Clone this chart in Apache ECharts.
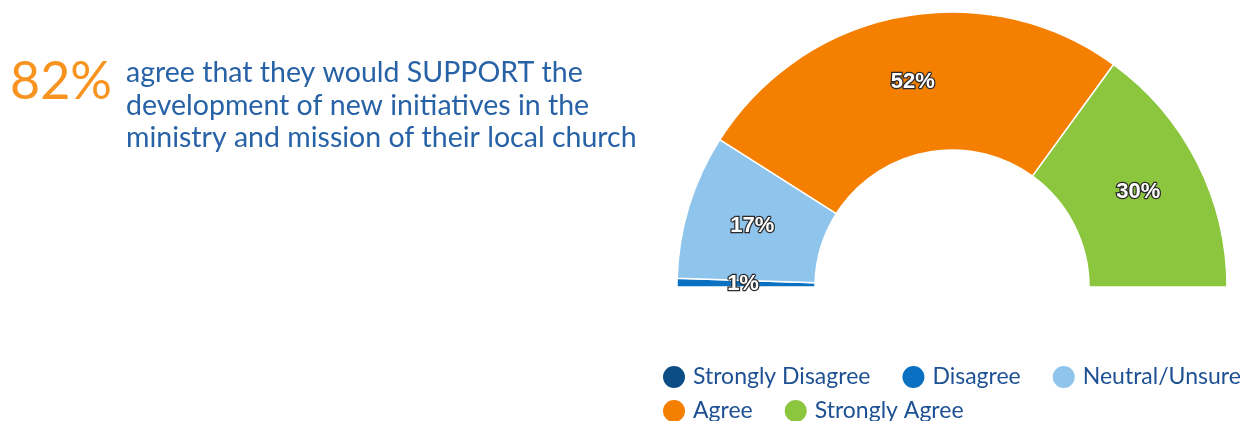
<!DOCTYPE html>
<html>
<head>
<meta charset="utf-8">
<script src="https://cdn.jsdelivr.net/npm/echarts@6/dist/echarts.min.js"></script>
<style>
    html, body { margin: 0; padding: 0; background: #fff; }
    #chart { width: 1246px; height: 421px; }
</style>
</head>
<body>
<div id="chart"></div>
<script>
    // 数据
    var categories = ['Strongly Disagree', 'Disagree', 'Neutral/Unsure', 'Agree', 'Strongly Agree'];
    var percents = [0, 1, 17, 52, 30];
    var colors = ['#0d4d85', '#0a71c2', '#8fc5ec', '#f57f00', '#8cc63e'];
    var headline = '82%';
    var headlineText = ['agree that they would SUPPORT the', 'development of new initiatives in the', 'ministry and mission of their local church'];

    var chart = echarts.init(document.getElementById('chart'));

    var pieData = categories.map(function (name, i) {
        return { name: name, value: percents[i] };
    });

    // 图例样式（两行）
    var legendBase = {
        left: 661,
        width: 620,
        padding: 0,
        itemGap: 30,
        itemWidth: 24,
        itemHeight: 24,
        icon: 'circle',
        textStyle: { color: '#1e5193', fontSize: 23, fontFamily: 'Lato', padding: [0, 0, 0, 2] }
    };

    var option = {
        color: colors,
        textStyle: { fontFamily: 'Lato' },
        title: [
            {
                text: headline,
                left: 5,
                top: 51,
                textStyle: { color: '#f7931e', fontSize: 52, fontWeight: 'normal', fontFamily: 'Lato' }
            },
            {
                text: headlineText.join('\n'),
                left: 121,
                top: 52,
                textStyle: { color: '#2862a6', fontSize: 28.5, fontWeight: 'normal', lineHeight: 32.5, fontFamily: 'Lato' }
            }
        ],
        legend: [
            Object.assign({}, legendBase, { top: 364, data: categories.slice(0, 3) }),
            Object.assign({}, legendBase, { top: 398, data: categories.slice(3) })
        ],
        series: [
            {
                type: 'pie',
                center: [952, 287],
                radius: [137, 275],
                startAngle: 180,
                endAngle: 0,
                avoidLabelOverlap: false,
                itemStyle: { borderColor: '#fff', borderWidth: 1.5 },
                label: {
                    show: true,
                    position: 'inside',
                    formatter: '{c}%',
                    color: '#fff',
                    fontSize: 22,
                    fontWeight: 'bold',
                    fontFamily: 'Liberation Sans',
                    textBorderColor: '#2a2a2a',
                    textBorderWidth: 2.5
                },
                labelLine: { show: false },
                emphasis: { disabled: true },
                data: pieData
            }
        ]
    };

    chart.setOption(option);
</script>
</body>
</html>
